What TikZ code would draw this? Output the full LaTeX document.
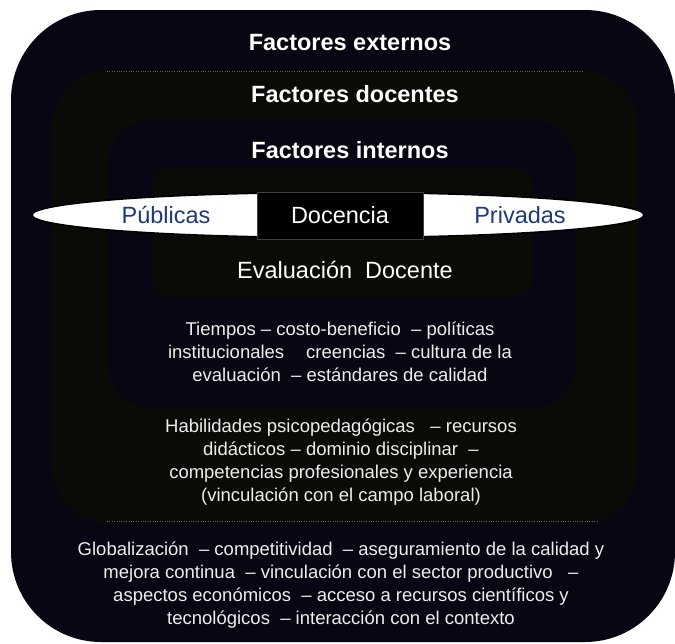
\documentclass[tikz,border=0pt]{standalone}
\usepackage{fontspec}
\setmainfont{Liberation Sans}
\usetikzlibrary{shapes.geometric}
\definecolor{navy}{HTML}{070713}
\definecolor{greenblk}{HTML}{090C06}
\definecolor{pubblue}{HTML}{1F3A78}
\definecolor{bodytext}{HTML}{EDEDED}
\begin{document}
\begin{tikzpicture}[x=1pt,y=-1pt,
  layer/.style={rectangle, inner sep=0pt, outer sep=0pt, draw=none},
  head/.style={text=white, font=\fontsize{23.5}{28}\selectfont\bfseries, inner sep=0pt},
  body/.style={text=bodytext, font=\fontsize{18.5}{23}\selectfont, align=center, inner sep=0pt},
  big/.style={font=\fontsize{23.5}{28}\selectfont, inner sep=0pt},
  dots/.style={white, dotted, line width=0.4pt, opacity=0.35}
]
\useasboundingbox (0,0) rectangle (675,643);
\fill[white] (0,0) rectangle (675,643);
\begin{scope}
\clip (0,0) rectangle (675,643);
% outer: Factores externos
\node[layer, fill=navy, rounded corners=90pt, minimum width=664pt, minimum height=632pt] (ext) at (343,326) {};
% Factores docentes
\node[layer, fill=greenblk, rounded corners=58pt, minimum width=586pt, minimum height=454pt] (doc) at (345,297) {};
% Factores internos
\node[layer, fill=navy, rounded corners=45pt, minimum width=470pt, minimum height=288pt] (int) at (342,264) {};
% Evaluacion docente
\node[layer, fill=greenblk, rounded corners=22pt, minimum width=381pt, minimum height=130pt] (eval) at (342,232) {};
\end{scope}

\draw[dots] ([xshift=55pt,yshift=-1.5pt]doc.north west) -- ([xshift=-55pt,yshift=-1.5pt]doc.north east);
\draw[dots] ([xshift=55pt,yshift=3pt]doc.south west) -- ([xshift=-40pt,yshift=3pt]doc.south east);

% ellipse band
\node[ellipse, draw=black, line width=1.5pt, fill=white, minimum width=612pt, minimum height=45pt, inner sep=0pt] (band) at (338,215) {};
\node[layer, fill=black, draw=gray!50!black, line width=0.6pt, minimum width=166pt, minimum height=47pt] (docbox) at (340,216) {};

\node[big, text=pubblue] (pub) at (166,215) {Públicas};
\node[big, text=pubblue] (priv) at (520,215) {Privadas};
\node[big, text=white] (docencia) at (340,215) {Docencia};
\node[big, text=white] (evaltxt) at (345,270) {Evaluación\ \ Docente};

\node[head] (hext) at (350,43) {Factores externos};
\node[head] (hdoc) at (355,94) {Factores docentes};
\node[head] (hint) at (350,150) {Factores internos};

\node[body] (tint) at (340,352) {Tiempos – costo-beneficio\ \ – políticas\\institucionales\hspace{22pt}creencias\ \ – cultura de la\\evaluación\ \ – estándares de calidad};
\node[body] (tdoc) at (341,462.5) {Habilidades psicopedagógicas\ \ \ – recursos\\didácticos – dominio disciplinar\ \ –\\competencias profesionales y experiencia\\(vinculación con el campo laboral)};
\node[body] (text) at (341,585.5) {Globalización\ \ – competitividad\ \ – aseguramiento de la calidad y\\mejora continua\ \ – vinculación con el sector productivo\ \ \ –\\aspectos económicos\ \ – acceso a recursos científicos y\\tecnológicos\ \ – interacción con el contexto};
\end{tikzpicture}
\end{document}
